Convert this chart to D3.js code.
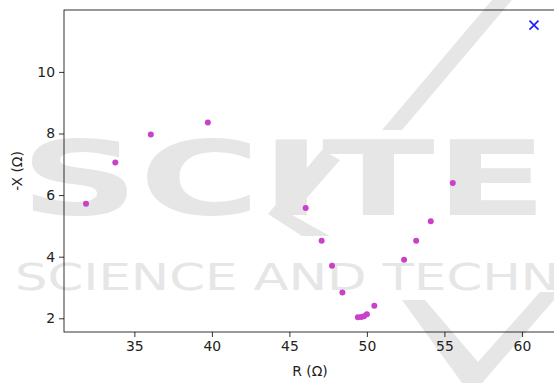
<!DOCTYPE html>
<html>
<head>
<meta charset="UTF-8">
<script src="https://cdn.jsdelivr.net/npm/d3@7.8.5/dist/d3.min.js"></script>
<style>
  html, body { margin: 0; padding: 0; background: #fff; overflow: hidden; }
  svg { display: block; font-family: 'DejaVu Sans', sans-serif; }
</style>
</head>
<body>
<svg id="chart" width="554" height="383"></svg>
<script>
// measured impedance points (R, -X)
const rValues = [31.88, 33.77, 36.06, 39.74, 46.05, 47.08, 47.75, 48.42, 49.42, 49.64, 49.81, 50.00, 50.48, 52.40, 53.18, 54.12, 55.54];
const xValues = [5.72, 7.06, 7.97, 8.36, 5.58, 4.52, 3.71, 2.84, 2.03, 2.04, 2.07, 2.13, 2.41, 3.90, 4.52, 5.15, 6.39];
// target point (blue cross)
const targetR = [60.78];
const targetX = [11.52];
const xTicks = [35, 40, 45, 50, 55, 60];
const yTicks = [2, 4, 6, 8, 10];

const svg = d3.select('#chart');
const mLeft = 64, mTop = 10, mRight = 556, mBottom = 332;

const x = d3.scaleLinear().domain([30.46, 62.2]).range([mLeft, mRight]);
const y = d3.scaleLinear().domain([1.555, 12.01]).range([mBottom, mTop]);

// watermark (light grey, behind the data)
const wm = svg.append('g').attr('fill', '#e6e6e6');
wm.append('polygon').attr('points', '492,0 512,0 402,130 382,130');
wm.append('polygon').attr('points', '322,150 340,160 292,215 330,236 302,236 268,214');
wm.append('polygon').attr('points', '402,300 425,300 478,362 540,292 554,292 554,300 482,383 462,383');
wm.append('text')
  .attr('x', 20).attr('y', 215)
  .attr('font-size', 104).attr('font-weight', 'bold')
  .attr('textLength', 1120).attr('lengthAdjust', 'spacingAndGlyphs')
  .text('SCITEPRESS');
wm.append('text')
  .attr('x', 15).attr('y', 290)
  .attr('font-size', 38)
  .attr('textLength', 720).attr('lengthAdjust', 'spacingAndGlyphs')
  .text('SCIENCE AND TECHNOLOGY');

// axes
const xAxis = d3.axisBottom(x).tickValues(xTicks).tickSize(5).tickPadding(4).tickFormat(d3.format('d'));
const yAxis = d3.axisLeft(y).tickValues(yTicks).tickSize(5).tickPadding(4).tickFormat(d3.format('d'));

const gx = svg.append('g').attr('transform', `translate(0,${mBottom})`).call(xAxis);
const gy = svg.append('g').attr('transform', `translate(${mLeft},0)`).call(yAxis);
[gx, gy].forEach(g => {
  g.select('.domain').remove();
  g.selectAll('.tick line').attr('stroke', '#000').attr('stroke-width', 0.8);
  g.selectAll('.tick text').attr('fill', '#222').attr('font-size', 13.9).attr('font-family', "'DejaVu Sans', sans-serif");
});

// frame
svg.append('rect')
  .attr('x', mLeft).attr('y', mTop)
  .attr('width', mRight - mLeft).attr('height', mBottom - mTop)
  .attr('fill', 'none').attr('stroke', '#000').attr('stroke-width', 0.8);

// labels
svg.append('text')
  .attr('x', (mLeft + mRight) / 2).attr('y', 376)
  .attr('text-anchor', 'middle').attr('font-size', 13.9).attr('fill', '#222')
  .text('R (Ω)');
svg.append('text')
  .attr('transform', `translate(22,${(mTop + mBottom) / 2}) rotate(-90)`)
  .attr('text-anchor', 'middle').attr('font-size', 13.9).attr('fill', '#222')
  .text('-X (Ω)');

// points
const pts = rValues.map((r, i) => ({ r, xv: xValues[i] }));
svg.append('g').selectAll('circle')
  .data(pts).enter().append('circle')
  .attr('cx', d => x(d.r)).attr('cy', d => y(d.xv))
  .attr('r', 3).attr('fill', '#c940c9');

const tgt = targetR.map((r, i) => ({ r, xv: targetX[i] }));
svg.append('g').selectAll('path')
  .data(tgt).enter().append('path')
  .attr('d', d => {
    const cx = x(d.r), cy = y(d.xv), s = 4.5;
    return `M${cx - s},${cy - s}L${cx + s},${cy + s}M${cx - s},${cy + s}L${cx + s},${cy - s}`;
  })
  .attr('stroke', '#1a1aff').attr('stroke-width', 1.6).attr('fill', 'none');
</script>
</body>
</html>
